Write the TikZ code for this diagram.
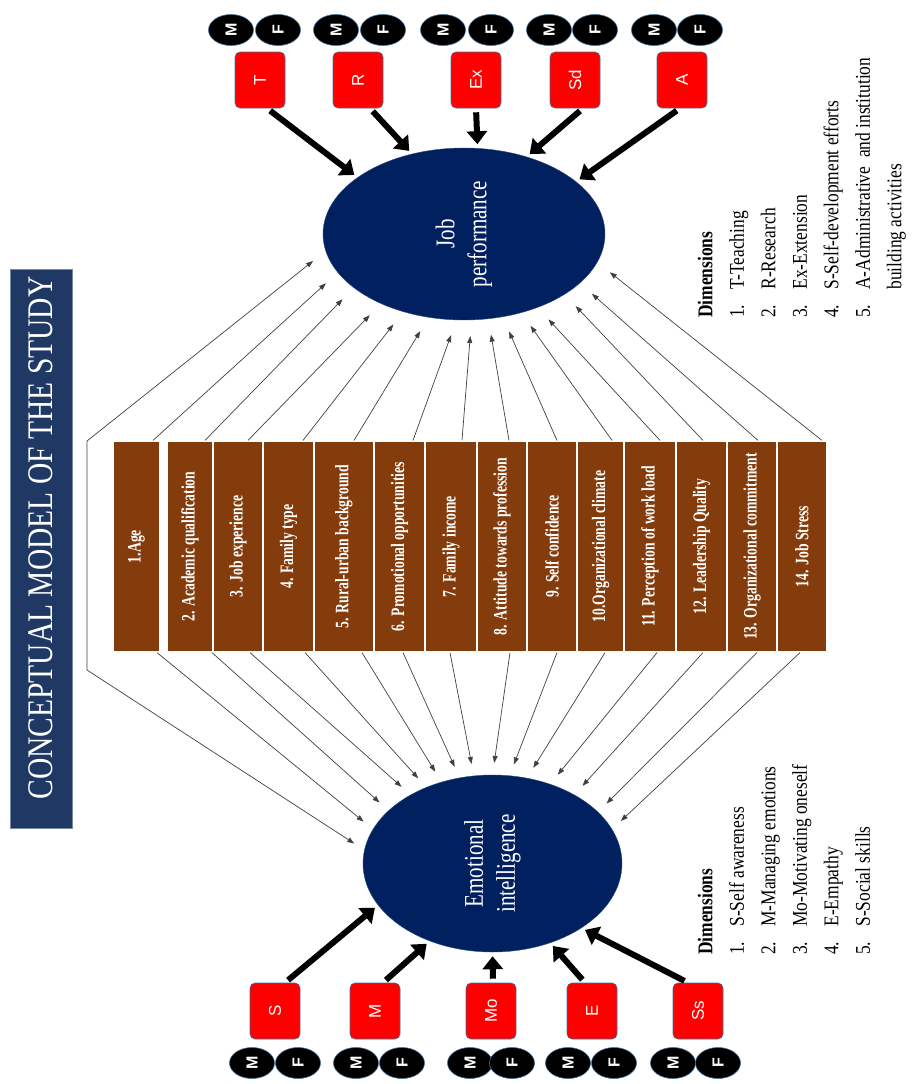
\documentclass[tikz,border=0pt]{standalone}
\usepackage{fontspec}
\setmainfont{Liberation Serif}
\newfontfamily\arialfont{Liberation Sans}
\usetikzlibrary{shapes.geometric, arrows.meta}

\definecolor{navy}{RGB}{0,32,96}
\definecolor{titleblue}{RGB}{31,56,100}
\definecolor{barbrown}{RGB}{132,60,12}
\definecolor{boxline}{RGB}{65,113,156}
\definecolor{thinline}{RGB}{64,64,64}

\tikzset{
	factor/.style={rectangle, fill=barbrown, draw=white, line width=1.2pt, minimum height=211pt, inner sep=0pt, text=white, font=\bfseries\fontsize{19}{21}\selectfont},
	construct/.style={ellipse, fill=navy, draw=navy!80, inner sep=0pt, text=white, font=\fontsize{27}{32}\selectfont},
	dimbox/.style={rectangle, rounded corners=5pt, fill=red, draw=boxline, line width=0.6pt, minimum width=50pt, minimum height=56pt, inner sep=0pt, text=white, font=\arialfont\fontsize{17}{20}\selectfont},
	sexnode/.style={ellipse, fill=black, draw=boxline, line width=0.6pt, minimum width=45pt, minimum height=31pt, inner sep=0pt, text=white, font=\arialfont\bfseries\fontsize{16}{18}\selectfont},
	inflow/.style={draw=thinline, line width=0.7pt, -{Triangle[length=7pt,width=5pt]}},
	dimflow/.style={line width=6pt, -{Triangle[length=13pt,width=20pt]}, shorten <=4pt, shorten >=4pt},
	dimlist/.style={rotate=90, anchor=north west, inner sep=0pt, font=\fontsize{21}{31.5}\selectfont}
}

\begin{document}
\begin{tikzpicture}[x=1pt, y=-1pt]
	\useasboundingbox (0,0) rectangle (912,1084);
	
	\node[rectangle, fill=titleblue, draw=titleblue!60, minimum width=62pt, minimum height=559pt] (title) at (41,548.5) {};
	\node[rotate=90, text=white, font=\fontsize{36}{40}\selectfont] (titletext) at (41,538) {\scalebox{0.82}[1]{CONCEPTUAL MODEL OF THE STUDY}};
	
	\node[construct, minimum width=282pt, minimum height=172pt] (jp) at (464,234) {\rotatebox{90}{\scalebox{0.78}[1]{\begin{tabular}{@{}c@{}}Job\\performance\end{tabular}}}};
	\node[construct, minimum width=259pt, minimum height=177pt] (ei) at (492.5,863.5) {\rotatebox{90}{\scalebox{0.78}[1]{\begin{tabular}{@{}c@{}}Emotional\\intelligence\end{tabular}}}};
	
	\foreach \i/\cx/\w/\txt in {1/136.5/47/{1.Age}, 2/190/46/{2. Academic qualification}, 3/238/50/{3. Job experience}, 4/288.5/51/{4. Family type}, 5/344/60/{5. Rural-urban background}, 6/399.5/51/{6. Promotional opportunities}, 7/451/52/{7. Family income}, 8/502/50/{8. Attitude towards profession}, 9/552/50/{9. Self confidence}, 10/600.5/47/{10.Organizational climate}, 11/650/52/{11. Perception of work load}, 12/701.5/51/{12. Leadership Quality}, 13/752/50/{13. Organizational commitment}, 14/802/50/{14. Job Stress}}
	{
		\node[factor, minimum width=\w pt] (f\i) at (\cx,546.5) {\rotatebox{90}{\scalebox{0.72}[1]{\txt}}};
	}
	
	\foreach \i/\tx/\ta/\bx/\ba in {1/16.5/-163.2/20.5/164.1, 2/15/-154.2/22/153.4, 3/10/-140.7/12/140.6, 4/14.5/-128.6/16.5/131.7, 5/10/-113.3/18/122.3, 6/13.5/-95/3.5/111.8, 7/11/-85/-1/102.1, 8/7/-74.4/8/90.6, 9/5/-65/5/79.3, 10/11.5/-54.3/4.5/68, 11/10/-45.7/7/54.6, 12/1.5/-31.4/1.5/40.3, 13/6/-23.2/5/26, 14/20/-12.9/-2/16.8}
	{
		\draw[inflow, shorten >=16pt] ([xshift=\tx pt]f\i.north) -- (jp.\ta);
		\draw[inflow, shorten >=12pt] ([xshift=\bx pt]f\i.south) -- (ei.\ba);
	}
	
	\coordinate (brtop) at (87,441);
	\coordinate (brbot) at (87,670);
	\draw[inflow, shorten >=16pt] (brtop) -- (jp.-173.8);
	\draw[inflow, shorten >=12pt] (brtop) -- (brbot) -- (ei.174.2);
	
	\foreach \n/\cx/\mx/\fx/\lab in {1/260/231/278/T, 2/358/336/383/R, 3/476/443/491/Ex, 4/575/549/595/Sd, 5/682/654/700/A}
	{
		\node[dimbox] (jd\n) at (\cx,80) {\rotatebox{90}{\lab}};
		\node[sexnode] (jd\n-m) at (\mx,30) {\rotatebox{90}{M}};
		\node[sexnode] (jd\n-f) at (\fx,30) {\rotatebox{90}{F}};
	}
	\foreach \n/\cx/\mx/\fx/\lab in {1/275/252/298/S, 2/375/356/402/M, 3/491/470/512/Mo, 4/592/568/614/E, 5/698/673/718/Ss}
	{
		\node[dimbox] (ed\n) at (\cx,1011) {\rotatebox{90}{\lab}};
		\node[sexnode] (ed\n-m) at (\mx,1063) {\rotatebox{90}{M}};
		\node[sexnode] (ed\n-f) at (\fx,1063) {\rotatebox{90}{F}};
	}
	
	\foreach \n/\sx/\ang in {1/7/152.8, 2/12/123.7, 3/0/81.7, 4/8/51, 5/-2/25.4}
		\draw[dimflow] ([xshift=\sx pt]jd\n.south) -- (jp.\ang);
	\foreach \n/\sx/\ang in {1/10/-160.5, 2/8/-129.6, 3/2/-90, 4/-7/-54.3, 5/-10/-36.1}
		\draw[dimflow] ([xshift=\sx pt]ed\n.north) -- (ei.\ang);
	
	\node[dimlist] (jpdims) at (690,318) {\scalebox{0.83}[1]{\begin{tabular}{@{}l@{}}
		\textbf{Dimensions}\\
		\makebox[34pt][l]{1.}T-Teaching\\
		\makebox[34pt][l]{2.}R-Research\\
		\makebox[34pt][l]{3.}Ex-Extension\\
		\makebox[34pt][l]{4.}S-Self-development efforts\\
		\makebox[34pt][l]{5.}A-Administrative \ and institution\\
		\hspace*{34pt}building activities
	\end{tabular}}};
	\node[dimlist] (eidims) at (690,955) {\scalebox{0.83}[1]{\begin{tabular}{@{}l@{}}
		\textbf{Dimensions}\\
		\makebox[34pt][l]{1.}S-Self awareness\\
		\makebox[34pt][l]{2.}M-Managing emotions\\
		\makebox[34pt][l]{3.}Mo-Motivating oneself\\
		\makebox[34pt][l]{4.}E-Empathy\\
		\makebox[34pt][l]{5.}S-Social skills
	\end{tabular}}};
\end{tikzpicture}
\end{document}
